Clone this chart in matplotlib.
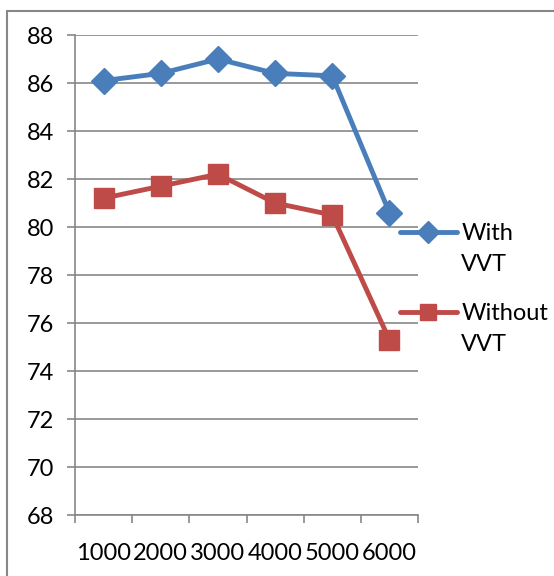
import numpy as np
import matplotlib
matplotlib.use("Agg")
import matplotlib.pyplot as plt
from matplotlib.patches import Rectangle
from matplotlib.text import Annotation

# engine speed categories and efficiency values
speeds = ["1000", "2000", "3000", "4000", "5000", "6000"]
with_vvt = [86.1, 86.4, 87.0, 86.4, 86.3, 80.6]
without_vvt = [81.2, 81.7, 82.2, 81.0, 80.5, 75.3]
y_ticks = [68, 70, 72, 74, 76, 78, 80, 82, 84, 86, 88]

blue = "#4A7EBB"
red = "#BE4B48"
grey = "#878787"
fs = 17

plt.rcParams["font.family"] = ["Lato", "DejaVu Sans"]

W, H = 554, 576
fig = plt.figure(figsize=(W / 100, H / 100), dpi=100)
ax = fig.add_axes([75 / W, 1 - 515 / H, (418 - 75) / W, (515 - 35) / H])

x = np.arange(len(speeds))
ax.plot(x, with_vvt, color=blue, lw=3.5, marker="D", ms=13, label="With",
        solid_joinstyle="round", solid_capstyle="round")
ax.plot(x, without_vvt, color=red, lw=3.5, marker="s", ms=14, label="Without",
        solid_joinstyle="round", solid_capstyle="round")

ax.set_xlim(-0.5, len(speeds) - 0.5)
ax.set_ylim(y_ticks[0], y_ticks[-1])
ax.set_yticks(y_ticks)
ax.set_yticklabels([str(v) for v in y_ticks])
ax.yaxis.grid(True, color=grey, lw=1.2)
ax.set_axisbelow(True)

# category boundaries get tick marks, category centres get the labels
ax.set_xticks(np.arange(-0.5, len(speeds)))
ax.set_xticklabels([])
ax.set_xticks(x, minor=True)
ax.set_xticklabels(speeds, minor=True)
ax.tick_params(axis="x", which="major", length=6, width=1.2, color=grey, direction="out")
ax.tick_params(axis="x", which="minor", length=0, pad=20, labelsize=fs)
ax.tick_params(axis="y", length=6, width=1.2, color=grey, pad=9, labelsize=fs)

for side in ["top", "right"]:
    ax.spines[side].set_visible(False)
for side in ["left", "bottom"]:
    ax.spines[side].set_color(grey)
    ax.spines[side].set_linewidth(1.2)

leg = fig.legend(loc="upper left", bbox_to_anchor=(400 / W, 1 - 223 / H), frameon=False,
                 fontsize=fs, handlelength=2.4, handletextpad=0.2, labelspacing=2.5,
                 borderpad=0, borderaxespad=0, markerscale=0.85)
# second line of each legend label sits under the first
for t in leg.get_texts():
    note = Annotation("VVT", xy=(0, 0), xycoords=t, xytext=(0, -7),
                      textcoords="offset points", fontsize=fs, va="top", ha="left")
    note.set_zorder(10)
    fig.add_artist(note)

fig.patches.append(Rectangle((7 / W, -0.1), 1.2, 1 - 11 / H + 0.1, transform=fig.transFigure,
                             fill=False, edgecolor=grey, lw=1.5))

fig.savefig("out.png", dpi=100)
